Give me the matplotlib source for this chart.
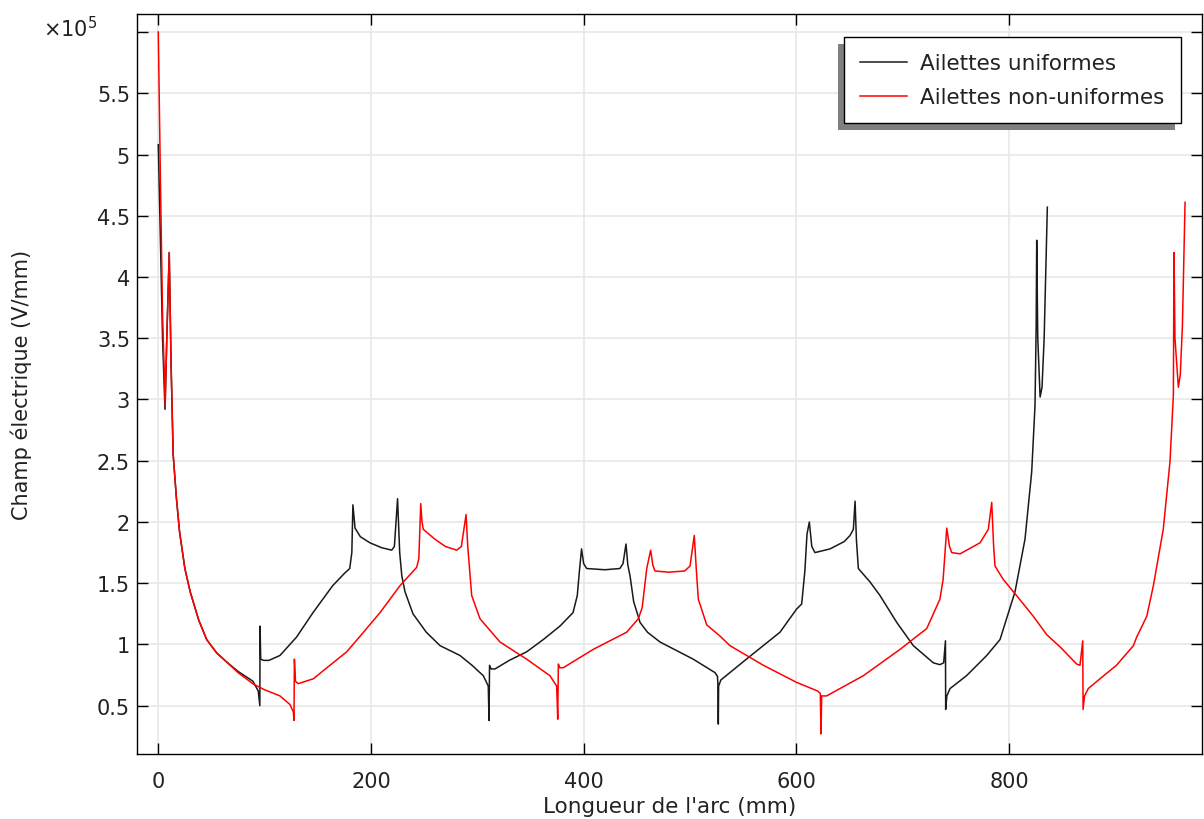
import matplotlib
matplotlib.use("Agg")
import matplotlib.pyplot as plt
from matplotlib.ticker import FuncFormatter
from matplotlib.patches import Rectangle

# arc length (mm) and electric field (x1e5 V/mm)
x_unif = [0, 2, 4, 6.3, 8, 10.3, 12, 14, 17, 20, 25, 30, 38, 45.5, 55, 64.3, 75, 89,
          94, 95.5, 95.7, 96.3, 99, 104, 114.4, 130, 145.5, 164, 175, 180, 182, 183,
          185, 190, 199, 210, 219.5, 222, 225, 227, 229, 232, 239.5, 252, 265, 283.7,
          295, 305.6, 310.3, 311, 311.5, 313, 316.6, 330, 346.4, 362, 377.7, 390, 394,
          396, 398, 400, 402.8, 420, 434, 437, 439.8, 441.5, 443.6, 447, 453, 460,
          471.8, 503, 523.5, 525.8, 526.3, 526.6, 526.9, 529, 553, 584.6, 600.3, 605,
          608, 610, 612.2, 614.5, 617.5, 631.6, 645, 650.5, 653.6, 655.2, 656.5,
          658.3, 669.3, 678.6, 694.4, 710, 728.8, 735, 738.5, 740.2, 740.4, 741.5,
          744.5, 760, 779, 791.5, 805.6, 815, 821.3, 824.4, 825.5, 826, 827, 829.2,
          831, 833, 836]
e_unif = [5.08, 4.3, 3.5, 2.92, 3.5, 4.2, 3.3, 2.55, 2.2, 1.92, 1.62, 1.43, 1.2, 1.04,
          0.93, 0.857, 0.78, 0.70,
          0.62, 0.5, 1.15, 0.88, 0.87, 0.87, 0.91, 1.06, 1.26, 1.48, 1.58, 1.62, 1.75,
          2.14, 1.95, 1.88, 1.83, 1.79, 1.77, 1.8, 2.19, 1.75, 1.56, 1.43, 1.25, 1.10,
          0.99, 0.91, 0.83, 0.745, 0.66, 0.38, 0.83, 0.80, 0.80, 0.87, 0.94, 1.04,
          1.15, 1.26, 1.4, 1.6, 1.78, 1.66, 1.62, 1.61, 1.62, 1.66, 1.82, 1.65, 1.56,
          1.35, 1.18, 1.1, 1.02, 0.88, 0.77, 0.74, 0.66, 0.35, 0.66, 0.71, 0.88, 1.10,
          1.29, 1.33, 1.6, 1.9, 2.0, 1.8, 1.75, 1.78, 1.84, 1.89, 1.94, 2.17, 1.85,
          1.62, 1.51, 1.40, 1.18, 0.99, 0.85, 0.835, 0.85, 1.03, 0.47, 0.58, 0.64,
          0.745, 0.91, 1.04, 1.43, 1.86, 2.41, 2.95, 3.6, 4.30, 3.5, 3.02, 3.1, 3.5,
          4.57]

x_nonunif = [0, 2, 4, 6.5, 8, 10.3, 12, 14, 17, 20, 25, 30, 38, 45.5, 55, 64.3, 75,
             89.3, 100, 114.4, 123.8, 127, 127.6, 128, 129, 131.6, 145.8, 160, 177.2,
             192, 208.5, 227.3, 243, 245, 246.8, 248, 249.2, 260, 270, 280.6, 285,
             289.4, 291, 294.7, 302.5, 321.3, 346.4, 368.3, 374.6, 375.6, 376.2, 377.5,
             380.8, 409, 440.4, 451.4, 455, 459.3, 463, 465, 467, 480, 495, 500, 504,
             506, 507.8, 515.7, 528, 537.6, 569, 600.3, 620, 622.5, 623.2, 623.8, 628.5,
             634.7, 663, 697.5, 722.6, 735, 738, 741.4, 744, 746.1, 753.9, 772.7, 780.5,
             783.7, 785.5, 786.8, 794.6, 807, 822.8, 835.4, 848, 863.6, 866.7, 869.3,
             869.6, 871, 874.5, 885.5, 901, 916.9, 920, 929.5, 935.7, 945, 951.3, 954.5,
             955.1, 956, 959.2, 961, 963, 965.5]
e_nonunif = [6.0, 4.8, 3.7, 2.95, 3.5, 4.2, 3.3, 2.55, 2.2, 1.92, 1.62, 1.43, 1.2, 1.04,
             0.93, 0.857, 0.77, 0.677, 0.63, 0.58, 0.51, 0.45, 0.38, 0.88, 0.70, 0.68,
             0.72, 0.82, 0.94, 1.09, 1.26, 1.48, 1.63, 1.7, 2.15, 2.0, 1.94, 1.86, 1.8,
             1.77, 1.8, 2.06, 1.8, 1.40, 1.21, 1.02, 0.88, 0.745, 0.66, 0.39, 0.84, 0.81,
             0.81, 0.96, 1.10, 1.21, 1.3, 1.62, 1.77, 1.65, 1.60, 1.59, 1.60, 1.64, 1.89,
             1.6, 1.37, 1.16, 1.07, 0.99, 0.83, 0.69, 0.62, 0.60, 0.27, 0.58, 0.58, 0.61,
             0.745, 0.96, 1.13, 1.37, 1.53, 1.95, 1.80, 1.75, 1.74, 1.83, 1.94, 2.16,
             1.8, 1.64, 1.53, 1.40, 1.23, 1.08, 0.98, 0.84, 0.83, 1.03, 0.47, 0.58, 0.64,
             0.72, 0.83, 0.99, 1.06, 1.23, 1.48, 1.94, 2.49, 3.03, 4.20, 3.5, 3.10, 3.2,
             3.6, 4.61]

x_ticks = [0, 200, 400, 600, 800]
y_ticks = [0.5, 1, 1.5, 2, 2.5, 3, 3.5, 4, 4.5, 5, 5.5, 6]

fs = 15
txt = "#222222"

fig = plt.figure(figsize=(12.04, 8.2), dpi=100)
ax = fig.add_axes([0.1138, 0.0793, 0.8846, 0.9024])

ax.plot(x_unif, e_unif, color="#1a1a1a", lw=1.1, label="Ailettes uniformes")
ax.plot(x_nonunif, e_nonunif, color="red", lw=1.1, label="Ailettes non-uniformes")

ax.set_xlim(-20, 981.5)
ax.set_ylim(0.106, 6.147)
ax.set_xticks(x_ticks)
ax.set_yticks(y_ticks)
# top tick (6) carries no label, the x10^5 factor sits there instead
ax.yaxis.set_major_formatter(FuncFormatter(lambda v, p: "" if v > 5.9 else "%g" % v))

ax.grid(True, color="#e8e8e8", lw=1.2)
ax.set_axisbelow(True)
ax.tick_params(direction="in", top=True, right=True, length=8, width=1.0,
               labelsize=fs, labelcolor=txt)
ax.tick_params(axis="x", pad=12)
ax.tick_params(axis="y", pad=5)
for s in ax.spines.values():
    s.set_linewidth(1.0)

ax.set_xlabel("Longueur de l'arc (mm)", fontsize=15.5, color=txt)
ax.set_ylabel("Champ électrique (V/mm)", fontsize=fs, color=txt)
ax.xaxis.set_label_coords(0.5, -0.057)
ax.yaxis.set_label_coords(-0.0986, 0.5)
fig.text(0.036, 0.965, "×10$^{5}$", fontsize=fs, color=txt, ha="left", va="center")

leg = ax.legend(loc="upper right", bbox_to_anchor=(0.980, 0.969), fancybox=False,
                shadow=False, edgecolor="black", fontsize=15.5, handlelength=2.2,
                handletextpad=0.6, borderpad=0.75, labelspacing=0.65, framealpha=1,
                borderaxespad=0)
leg.get_frame().set_linewidth(1.0)
for t in leg.get_texts():
    t.set_color(txt)
leg.set_zorder(5)

# shadow drawn down-left of the legend box, under it
fig.canvas.draw()
bb = leg.get_window_extent()
shadow = Rectangle((bb.x0 - 6, bb.y0 - 7), bb.width, bb.height, transform=None,
                   facecolor="#808080", edgecolor="none", zorder=4, clip_on=False)
ax.add_artist(shadow)

fig.savefig("out.png", dpi=100)
